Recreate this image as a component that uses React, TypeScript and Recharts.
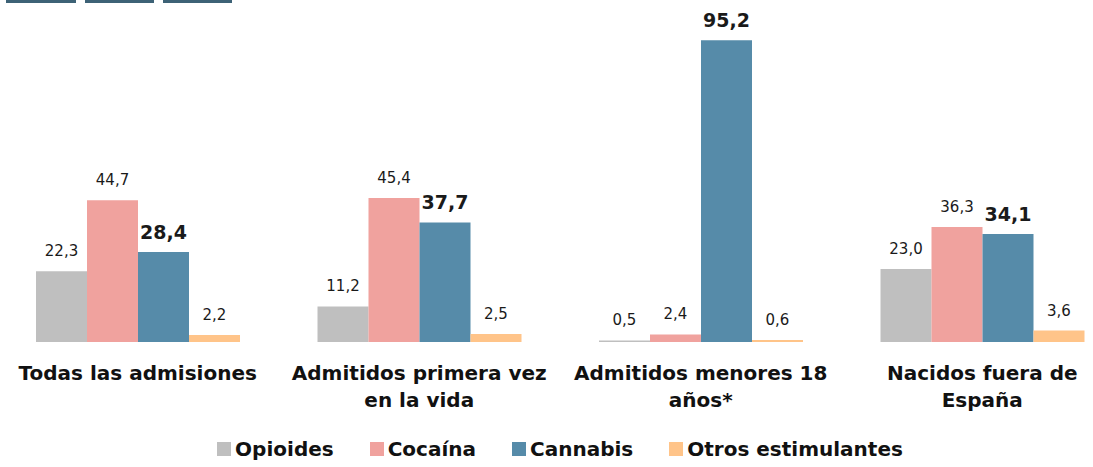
import { Bar, BarChart, LabelList, Legend, XAxis, YAxis } from 'recharts';

const categories = [
  'Todas las admisiones',
  'Admitidos primera vez\nen la vida',
  'Admitidos menores 18\naños*',
  'Nacidos fuera de\nEspaña',
];
const opioides = [22.3, 11.2, 0.5, 23.0];
const cocaina = [44.7, 45.4, 2.4, 36.3];
const cannabis = [28.4, 37.7, 95.2, 34.1];
const otros = [2.2, 2.5, 0.6, 3.6];

const series = [
  { key: 'opioides', name: 'Opioides', color: '#bfbfbf', bold: false },
  { key: 'cocaina', name: 'Cocaína', color: '#f0a29e', bold: false },
  { key: 'cannabis', name: 'Cannabis', color: '#568ba9', bold: true },
  { key: 'otros', name: 'Otros estimulantes', color: '#ffc489', bold: false },
];

const data = categories.map((c, i) => ({
  name: c,
  opioides: opioides[i],
  cocaina: cocaina[i],
  cannabis: cannabis[i],
  otros: otros[i],
}));

const font = '"DejaVu Sans", sans-serif';
const fmt = (v: number) => v.toFixed(1).replace('.', ',');

function CategoryTick({ x, y, payload }: any) {
  const lines = String(payload.value).split('\n');
  return (
    <text x={x} y={y} textAnchor="middle" fontFamily={font} fontSize={20} fontWeight="bold" fill="#111">
      {lines.map((l, i) => (
        <tspan key={i} x={x} dy={i === 0 ? 38 : 27}>
          {l}
        </tspan>
      ))}
    </text>
  );
}

function LegendContent() {
  return (
    <div style={{ display: 'flex', justifyContent: 'center', alignItems: 'center', gap: 36, height: 36 }}>
      {series.map((s) => (
        <div key={s.key} style={{ display: 'flex', alignItems: 'center', gap: 4 }}>
          <span style={{ width: 14, height: 14, background: s.color, display: 'inline-block' }} />
          <span style={{ fontFamily: font, fontSize: 20, fontWeight: 'bold', color: '#111' }}>{s.name}</span>
        </div>
      ))}
    </div>
  );
}

export default function App() {
  return (
    <div style={{ position: 'fixed', left: 0, top: 0, width: 1093, height: 467, overflow: 'hidden', background: '#fff' }}>
      <div style={{ position: 'absolute', left: 6, top: 0, width: 70, height: 3, background: '#3d6276' }} />
      <div style={{ position: 'absolute', left: 85, top: 0, width: 69, height: 3, background: '#3d6276' }} />
      <div style={{ position: 'absolute', left: 163, top: 0, width: 69, height: 3, background: '#3d6276' }} />
      <div style={{ position: 'absolute', left: -3, top: 0 }}>
        <BarChart
          width={1126}
          height={467}
          data={data}
          margin={{ top: 25, right: 0, left: 0, bottom: 0 }}
          barGap={0}
        >
          <XAxis
            dataKey="name"
            axisLine={false}
            tickLine={false}
            tickSize={0}
            tickMargin={0}
            height={89}
            interval={0}
            tick={<CategoryTick />}
          />
          <YAxis hide domain={[0, 100]} />
          <Legend verticalAlign="bottom" height={36} content={<LegendContent />} />
          {series.map((s) => (
            <Bar
              key={s.key}
              dataKey={s.key}
              name={s.name}
              fill={s.color}
              barSize={51}
              isAnimationActive={false}
            >
              <LabelList
                dataKey={s.key}
                position="top"
                offset={s.bold ? 13 : 15}
                formatter={(v: any) => fmt(Number(v))}
                style={{
                  fontFamily: font,
                  fontSize: s.bold ? 19 : 15,
                  fontWeight: s.bold ? 'bold' : 'normal',
                  fill: '#1a1a1a',
                }}
              />
            </Bar>
          ))}
        </BarChart>
      </div>
    </div>
  );
}
